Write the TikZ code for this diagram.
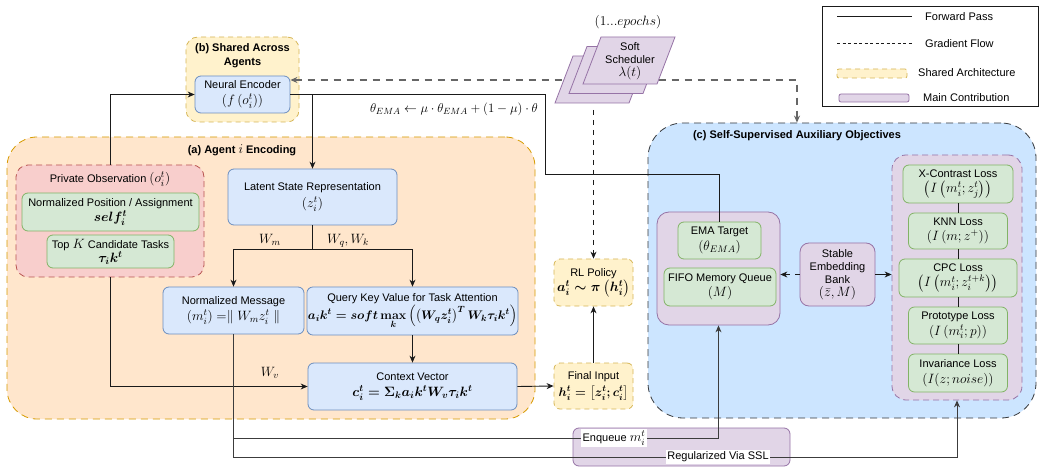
\RequirePackage{fix-cm}
\documentclass[tikz,border=0pt]{standalone}
\usepackage[no-math]{fontspec}
\setmainfont{Liberation Sans}
\usepackage{amsmath}
\DeclareMathSizes{11}{13.5}{9.5}{7.5}
\DeclareMathSizes{10.5}{12.4}{9}{7}
\DeclareMathSizes{10}{12.8}{9}{7}
\usetikzlibrary{arrows.meta}
\definecolor{bluef}{HTML}{DAE8FC}
\definecolor{blued}{HTML}{6C8EBF}
\definecolor{greenf}{HTML}{D5E8D4}
\definecolor{greend}{HTML}{82B366}
\definecolor{purpf}{HTML}{E1D5E7}
\definecolor{purpd}{HTML}{9673A6}
\definecolor{yelf}{HTML}{FFF2CC}
\definecolor{yeld}{HTML}{D6B656}
\definecolor{oraf}{HTML}{FFE6CC}
\definecolor{orad}{HTML}{D79B00}
\definecolor{redf}{HTML}{F8CECC}
\definecolor{redd}{HTML}{B85450}
\definecolor{cf}{HTML}{CCE5FF}
\definecolor{cd}{HTML}{36393D}
\definecolor{ln}{HTML}{1A1A1A}
\definecolor{gl}{HTML}{666666}
\tikzset{
  sz/.style 2 args={minimum width=#1, minimum height=#2},
  bx/.style={align=center, inner sep=1pt, line width=0.8pt, rounded corners=6pt, font=\fontsize{11}{15.5}\selectfont},
  bluebox/.style={bx, fill=bluef, draw=blued},
  greenbox/.style={bx, fill=greenf, draw=greend},
  purpbox/.style={bx, fill=purpf, draw=purpd},
  yelbox/.style={bx, fill=yelf, draw=yeld, dash pattern=on 5pt off 4pt},
  ttl/.style={font=\fontsize{11}{14}\selectfont\bfseries, align=center, inner sep=0pt},
  lbl/.style={inner sep=0pt},
  conn/.style={draw=ln, line width=0.9pt},
  arr/.style={conn, -{Stealth[length=7pt,width=6pt]}},
  kdash/.style={draw=ln, line width=0.9pt, dash pattern=on 5pt off 5pt},
  gdash/.style={draw=gl, line width=1.4pt, dash pattern=on 7pt off 6pt},
}
\begin{document}
\begin{tikzpicture}[x=1pt,y=-1pt, font=\fontsize{11}{13}\selectfont]
\useasboundingbox (0,0) rectangle (1042,473);
\fill[white] (0,0) rectangle (1042,473);

% ---------- containers ----------
\node[bx, fill=oraf, draw=orad, dash pattern=on 7pt off 5pt, rounded corners=30pt, sz={528pt}{282pt}] (boxA) at (271,278) {};
\node[ttl] (titleA) at (242,150) {(a) Agent $i$ Encoding};
\node[yelbox, rounded corners=12pt, sz={113pt}{85pt}] (boxB) at (242.5,79.5) {};
\node[ttl] (titleB) at (242.5,56) {(b) Shared Across\\Agents};
\node[bx, fill=cf, draw=cd, dash pattern=on 7pt off 5pt, rounded corners=35pt, sz={388pt}{295pt}] (boxC) at (842,270.5) {};
\node[ttl] (titleC) at (797,136) {(c) Self-Supervised Auxiliary Objectives};

% ---------- private observation ----------
\node[bx, fill=redf, draw=redd, dash pattern=on 6pt off 4pt, rounded corners=12pt, sz={188pt}{112pt}] (priv) at (110,221) {};
\node[lbl] (privT) at (110,179) {Private Observation $\left(o_i^t\right)$};
\node[greenbox, sz={177pt}{38pt}] (pos) at (110.5,212) {Normalized Position / Assignment\\{\boldmath$self_i^t$}};
\node[greenbox, sz={127pt}{33pt}, font=\fontsize{11}{14}\selectfont] (topk) at (110.5,251.5) {Top $K$ Candidate Tasks\\{\boldmath$\tau_i k^t$}};

% ---------- agent nodes ----------
\node[bluebox, sz={95pt}{37pt}] (enc) at (242.5,94.5) {Neural Encoder\\$\left(f\left(o_i^t\right)\right)$};
\node[bluebox, sz={169pt}{56pt}, font=\fontsize{11}{17}\selectfont] (lat) at (312.5,197) {Latent State Representation\\$\left(z_i^t\right)$};
\node[bluebox, sz={141pt}{47pt}] (msg) at (233.5,310.5) {Normalized Message\\$\left(m_i^t\right) =\parallel W_m z_i^t \parallel$};
\node[bluebox, sz={209pt}{48pt}] (qkv) at (412.5,311) {Query Key Value for Task Attention\\[1pt]{\fontsize{10.5}{12}\selectfont\boldmath$a_i k^t = soft\max\limits_k \left(\left(W_q z_i^t\right)^T W_k \tau_i k^t\right)$}};
\node[bluebox, sz={209pt}{47pt}] (ctx) at (412.5,386.5) {Context Vector\\{\boldmath$c_i^t = \Sigma_k a_i k^t W_v \tau_i k^t$}};
\node[yelbox, sz={79pt}{46pt}, font=\fontsize{11}{17}\selectfont] (fin) at (593.5,386) {Final Input\\{\fontsize{10.5}{12}\selectfont\boldmath$h_i^t = \left[z_i^t; c_i^t\right]$}};
\node[yelbox, sz={79pt}{47pt}] (pol) at (593.5,282.5) {RL Policy\\{\boldmath$a_i^t \sim \pi\left(h_i^t\right)$}};

% ---------- (c) contents ----------
\node[purpbox, rounded corners=12pt, sz={123pt}{113pt}] (contL) at (718.5,268.5) {};
\node[greenbox, sz={83pt}{37pt}] (ema) at (719.5,240.5) {EMA Target\\$\left(\theta_{EMA}\right)$};
\node[greenbox, sz={112pt}{38pt}] (fifo) at (720,287) {FIFO Memory Queue\\$\left(M\right)$};
\node[purpbox, rounded corners=9pt, sz={75pt}{63pt}, font=\fontsize{11}{13}\selectfont] (bank) at (837.5,274.5) {Stable\\Embedding\\Bank\\$\left(\bar{z}, M\right)$};
\node[purpbox, dash pattern=on 6pt off 4pt, rounded corners=14pt, sz={130pt}{245pt}] (contR) at (957,277.5) {};
\node[greenbox, sz={110pt}{38pt}] (xc) at (958,184) {X-Contrast Loss\\$\left(I\left(m_i^t; z_j^t\right)\right)$};
\node[greenbox, sz={99pt}{36pt}] (knn) at (958,231) {KNN Loss\\$\left(I\left(m; z^{+}\right)\right)$};
\node[greenbox, sz={118pt}{38pt}] (cpc) at (958,278) {CPC Loss\\$\left(I\left(m_i^t; z_i^{t+k}\right)\right)$};
\node[greenbox, sz={99pt}{37pt}] (proto) at (958,325.5) {Prototype Loss\\$\left(I\left(m_i^t; p\right)\right)$};
\node[greenbox, sz={99pt}{38pt}] (inv) at (958,373) {Invariance Loss\\$\left(I(z; noise)\right)$};
\draw[conn] (xc.south) -- (knn.north);
\draw[conn] (knn.south) -- (cpc.north);
\draw[conn] (cpc.south) -- (proto.north);
\draw[conn] (proto.south) -- (inv.north);

% ---------- gradient / scheduler ----------
\coordinate (g1) at (797,80);
\draw[gdash, {Stealth[length=7pt,width=6pt]}-{Stealth[length=7pt,width=6pt]}] (enc.east |- g1) -- (g1) -- (boxC.north -| g1);
\coordinate (s0) at (593.5,110);
\draw[kdash, -{Stealth[length=7pt,width=6pt]}] (s0) -- (pol.north);
\begin{scope}[fill=purpf, draw=purpd, line width=0.8pt]
\filldraw (573,56) -- (647,56) -- (629,103) -- (555,103) -- cycle;
\filldraw (587,46.5) -- (661,46.5) -- (643,93.5) -- (569,93.5) -- cycle;
\filldraw (601,37) -- (675,37) -- (657,84) -- (583,84) -- cycle;
\end{scope}
\node[lbl, align=center] (sched) at (630,61) {Soft\\Scheduler\\$\lambda(t)$};
\node[lbl] (epochs) at (628,22) {$(1...epochs)$};

% ---------- forward connectors ----------
\draw[arr] (priv.north) |- (enc.west);
\draw[arr] (enc.east) -| (lat.north);
\coordinate (e1) at (545,94.5);
\coordinate (e2) at (545,174);
\draw[conn] (enc.east) -- (e1) -- (e2) -| (ema.north);
\node[lbl, font=\fontsize{10}{12}\selectfont] (emaeq) at (454,109) {$\theta_{EMA} \leftarrow \mu \cdot \theta_{EMA} + (1-\mu) \cdot \theta$};
\coordinate (split) at (312.5,249);
\draw[conn] (lat.south) -- (split);
\draw[arr] (split) -| (msg.north);
\draw[arr] (split) -| (qkv.north);
\node[lbl] (wm) at (270,240) {$W_m$};
\node[lbl] (wqk) at (348,241) {$W_q, W_k$};
\draw[arr] (qkv.south) -- (ctx.north);
\draw[arr] (priv.south) |- (ctx.west);
\node[lbl] (wv) at (270,373) {$W_v$};
\draw[arr] (ctx.east) -- (fin.west);
\draw[arr] (fin.north) -- (pol.south);
\draw[kdash, -{Stealth[length=7pt,width=6pt]}] (bank.west) -- (contL.east |- bank.west);
\draw[arr] (bank.east) -- (contR.west |- bank.east);

% ---------- bottom SSL ----------
\node[purpbox, sz={217pt}{38pt}] (sslbox) at (681.5,447) {};
\coordinate (q1) at (233.5,438);
\coordinate (q2) at (233.5,457);
\draw[arr, draw=ln!85] (msg.south) -- (q1) -| (contL.south);
\draw[arr, draw=ln!85] (msg.south) -- (q2) -| (contR.south);
\node[lbl, fill=white, inner sep=1.5pt] (enq) at (614,438) {Enqueue $m_i^t$};
\node[lbl, fill=white, inner sep=1.5pt] (sslL) at (718,457) {Regularized Via SSL};

% ---------- legend ----------
\node[draw=ln, line width=0.8pt, sz={216pt}{100pt}, inner sep=0pt] (legend) at (930,56) {};
\coordinate (l1a) at (837,16); \coordinate (l1b) at (912,16);
\draw[conn] (l1a) -- (l1b);
\node[lbl, anchor=west] (lt1) at (925,17) {Forward Pass};
\coordinate (l2a) at (837,43); \coordinate (l2b) at (912,43);
\draw[draw=ln, line width=0.8pt, dash pattern=on 3pt off 2.5pt] (l2a) -- (l2b);
\node[lbl, anchor=west] (lt2) at (925,44) {Gradient Flow};
\node[yelbox, rounded corners=2pt, sz={70pt}{9pt}] (ls) at (872,73.5) {};
\node[lbl, anchor=west] (lt3) at (918,73) {Shared Architecture};
\node[purpbox, rounded corners=2pt, sz={70pt}{8pt}] (lm) at (874,98) {};
\node[lbl, anchor=west] (lt4) at (923,98) {Main Contribution};
\end{tikzpicture}
\end{document}
